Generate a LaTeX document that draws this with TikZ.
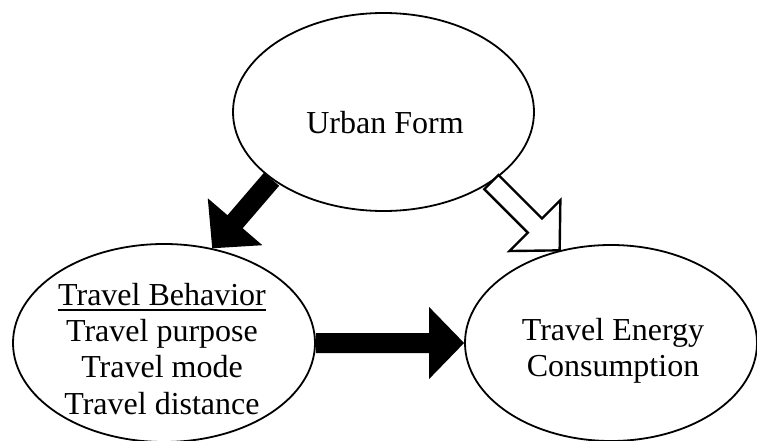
\documentclass[tikz,border=0pt]{standalone}
\usepackage{fontspec}
\setmainfont{Liberation Serif}
\usetikzlibrary{shapes.geometric,calc}

\tikzset{
  oval/.style={ellipse, draw, line width=1.8pt, inner sep=0pt,
    minimum width=301pt, minimum height=198pt},
  lbl/.style={anchor=base, inner sep=0pt, font=\fontsize{32}{36}\selectfont},
  solidarrow/.style={fill=black, draw=none},
  hollowarrow/.style={fill=white, draw=black, line width=2.4pt, line join=miter},
}

% Block arrow from tail #2 to tip #3: shaft 20pt wide, head 72pt wide, 35pt long
\newcommand\blockarrow[3]{%
  \path ($(#3)!35pt!(#2)$) coordinate (#2-#3-base);
  \draw[#1]
    ($(#2)!10pt!90:(#3)$) --
    ($(#2-#3-base)!10pt!90:(#3)$) --
    ($(#2-#3-base)!36pt!90:(#3)$) --
    (#3) --
    ($(#2-#3-base)!36pt!-90:(#3)$) --
    ($(#2-#3-base)!10pt!-90:(#3)$) --
    ($(#2)!10pt!-90:(#3)$) -- cycle;
}

\begin{document}
\begin{tikzpicture}[x=1pt, y=-1pt]
  \useasboundingbox (0,0) rectangle (757,441);

  % the three factors
  \node[oval] (uf)  at (383.5,112) {};
  \node[oval, minimum width=302pt] (tb)  at (164,343) {};
  \node[oval, minimum width=292pt, minimum height=196pt] (tec) at (611,343) {};

  % labels
  \node[lbl] (uft) at (385,133) {Urban Form};

  \node[lbl] (tb1) at (162,305) {Travel Behavior};
  \node[lbl] (tb2) at (162,341.3) {Travel purpose};
  \node[lbl] (tb3) at (162,377.7) {Travel mode};
  \node[lbl] (tb4) at (162,414) {Travel distance};
  \draw[line width=1.6pt] ([yshift=-5pt]tb1.base west) -- ([yshift=-5pt]tb1.base east);

  \node[lbl] (tec1) at (613,340) {Travel Energy};
  \node[lbl] (tec2) at (613,376.7) {Consumption};

  % connection points on the ellipse borders
  \coordinate (ufA)  at (uf.211);
  \coordinate (tbA)  at (tb.63);
  \coordinate (ufB)  at (uf.-33);
  \coordinate (tecB) at (tec.119);
  \coordinate (tbC)  at (tb.east);
  \coordinate (tecC) at (tec.west);

  % influences
  \blockarrow{solidarrow}{ufA}{tbA}
  \blockarrow{hollowarrow}{ufB}{tecB}
  \blockarrow{solidarrow}{tbC}{tecC}
\end{tikzpicture}
\end{document}
